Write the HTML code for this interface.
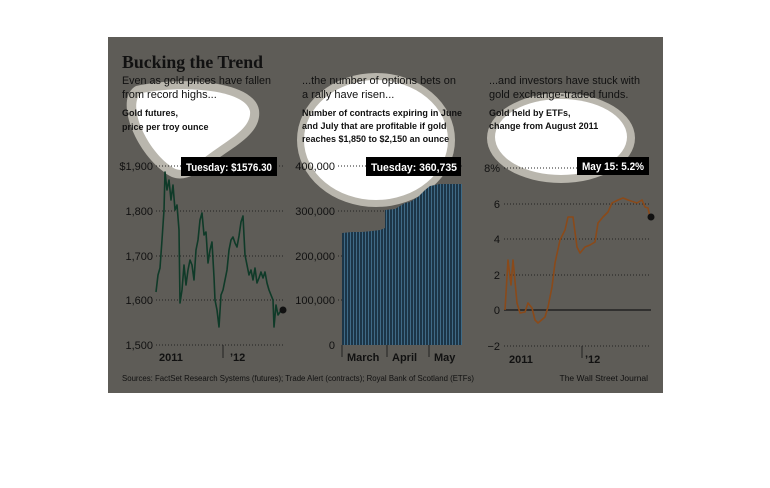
<!DOCTYPE html>
<html><head><style>
body{margin:0;background:#fff;width:770px;height:488px;overflow:hidden}
svg{position:absolute;left:0;top:0}
</style></head><body>
<svg width="770" height="488" viewBox="0 0 770 488" font-family="Liberation Sans, sans-serif">
<defs>
<clipPath id="b2"><ellipse cx="376" cy="140" rx="72" ry="60"/></clipPath>
<pattern id="st" width="3" height="10" patternUnits="userSpaceOnUse"><rect width="2" height="10" fill="#1c3547"/><rect x="2" width="1" height="10" fill="#3f6a86"/></pattern>
<pattern id="st2" width="3" height="10" patternUnits="userSpaceOnUse"><rect width="2" height="10" fill="#4a9ec8"/><rect x="2" width="1" height="10" fill="#bfe3f3"/></pattern>
</defs>
<rect x="108" y="37" width="555" height="356" fill="#5e5c57"/>
<!-- blobs -->
<path d="M136,86 C180,76 254,80 259,110 C262,134 234,146 209,165 C192,178 178,184 164,172 C134,150 114,98 136,86 Z" fill="#b9b6ad"/>
<path d="M142,93 C182,85 245,89 250,111 C252,129 227,140 204,158 C189,170 180,174 169,165 C143,145 127,102 142,93 Z" fill="#fff"/>
<ellipse cx="376" cy="140" rx="79" ry="67" fill="#b9b6ad"/>
<ellipse cx="376" cy="140" rx="72" ry="60" fill="#fff"/>
<ellipse cx="561" cy="138" rx="74" ry="45" fill="#b9b6ad"/>
<ellipse cx="561" cy="137" rx="66" ry="38" fill="#fff"/>
<text x="122" y="68" style="font-family:'Liberation Serif',serif" font-weight="bold" font-size="18" fill="#111" textLength="141" lengthAdjust="spacingAndGlyphs">Bucking the Trend</text>
<g font-size="11" fill="#111">
<text x="122" y="84" textLength="149" lengthAdjust="spacingAndGlyphs">Even as gold prices have fallen</text>
<text x="122" y="98">from record highs...</text>
<text x="302" y="84" textLength="154" lengthAdjust="spacingAndGlyphs">...the number of options bets on</text>
<text x="302" y="98">a rally have risen...</text>
<text x="489" y="84" textLength="151" lengthAdjust="spacingAndGlyphs">...and investors have stuck with</text>
<text x="489" y="98">gold exchange-traded funds.</text>
</g>
<g font-size="9" font-weight="bold" fill="#111">
<text x="122" y="116">Gold futures,</text>
<text x="122" y="130">price per troy ounce</text>
<text x="302" y="116" textLength="160" lengthAdjust="spacingAndGlyphs">Number of contracts expiring in June</text>
<text x="302" y="129">and July that are profitable if gold</text>
<text x="302" y="142">reaches $1,850 to $2,150 an ounce</text>
<text x="489" y="116">Gold held by ETFs,</text>
<text x="489" y="129">change from August 2011</text>
</g>
<!-- grids -->
<g stroke="#222" stroke-dasharray="1,2" stroke-width="1">
<line x1="156" y1="166" x2="284" y2="166"/><line x1="156" y1="211" x2="284" y2="211"/><line x1="156" y1="256" x2="284" y2="256"/><line x1="156" y1="300" x2="284" y2="300"/><line x1="156" y1="345" x2="284" y2="345"/>
<line x1="338" y1="166" x2="462" y2="166"/><line x1="338" y1="211" x2="462" y2="211"/><line x1="338" y1="256" x2="462" y2="256"/><line x1="338" y1="300" x2="462" y2="300"/>
<line x1="504" y1="168" x2="651" y2="168"/><line x1="504" y1="204" x2="651" y2="204"/><line x1="504" y1="239" x2="651" y2="239"/><line x1="504" y1="275" x2="651" y2="275"/><line x1="504" y1="346" x2="651" y2="346"/>
</g>
<line x1="504" y1="310" x2="651" y2="310" stroke="#222" stroke-width="1.5"/>
<g font-size="11" fill="#111" text-anchor="end">
<text x="153" y="170">$1,900</text><text x="153" y="215">1,800</text><text x="153" y="260">1,700</text><text x="153" y="304">1,600</text><text x="153" y="349">1,500</text>
<text x="335" y="170">400,000</text><text x="335" y="215">300,000</text><text x="335" y="260">200,000</text><text x="335" y="304">100,000</text><text x="335" y="349">0</text>
<text x="500" y="172">8%</text><text x="500" y="208">6</text><text x="500" y="243">4</text><text x="500" y="279">2</text><text x="500" y="314">0</text><text x="500" y="350">−2</text>
</g>
<line x1="223" y1="345" x2="223" y2="358" stroke="#222"/>
<line x1="582" y1="346" x2="582" y2="358" stroke="#222"/>
<line x1="342" y1="345" x2="342" y2="357" stroke="#222"/><line x1="387" y1="345" x2="387" y2="357" stroke="#222"/><line x1="429" y1="345" x2="429" y2="357" stroke="#222"/>
<g font-size="11" fill="#111" font-weight="bold">
<text x="159" y="361">2011</text><text x="230" y="361">’12</text>
<text x="347" y="361">March</text><text x="392" y="361">April</text><text x="434" y="361">May</text>
<text x="509" y="363">2011</text><text x="585" y="363">’12</text>
</g>
<path d="M342,345 L342,233 L352,232 L362,232 L372,231 L380,230 L385,228 L385,210 L395,209 L405,203 L410,202 L418,197 L425,190 L430,186 L440,184 L462,184 L462,345 Z" fill="url(#st)"/>
<path d="M342,345 L342,233 L352,232 L362,232 L372,231 L380,230 L385,228 L385,210 L395,209 L405,203 L410,202 L418,197 L425,190 L430,186 L440,184 L462,184 L462,345 Z" fill="url(#st2)" clip-path="url(#b2)"/>
<polyline fill="none" stroke="#0f3a28" stroke-width="1.6" stroke-linejoin="round" points="156,292 158,275 160,268 162,240 164,210 165,172 167,190 169,180 171,200 173,185 175,210 177,205 179,230 180,303 182,290 184,265 186,285 188,270 190,260 192,265 194,280 196,250 198,240 200,220 202,213 204,235 206,232 208,263 210,250 212,242 214,277 215,300 217,310 219,327 221,295 223,290 225,280 227,270 229,250 231,240 233,237 235,243 237,247 239,236 241,222 243,216 245,255 247,265 249,275 251,270 253,280 255,268 257,283 259,278 261,272 263,278 265,272 267,283 269,290 271,295 273,300 274,327 276,305 278,315 280,312 283,310"/>
<circle cx="283" cy="310" r="3.5" fill="#111"/>
<polyline fill="none" stroke="#8a4a1a" stroke-width="1.6" stroke-linejoin="round" points="505,310 508,260 511,285 513,260 517,303 520,313 525,312 528,303 532,308 535,320 538,323 545,317 548,307 552,287 555,263 560,240 565,230 568,217 573,217 577,247 580,253 585,247 590,245 595,242 598,223 603,217 608,212 612,203 618,200 623,198 628,200 637,203 642,200 645,207 648,208 650,217"/>
<circle cx="651" cy="217" r="3.5" fill="#111"/>
<rect x="181" y="157" width="96" height="19" fill="#000"/>
<text x="186" y="171" font-size="11" font-weight="bold" fill="#fff" textLength="86" lengthAdjust="spacingAndGlyphs">Tuesday: $1576.30</text>
<rect x="366" y="157" width="95" height="19" fill="#000"/>
<text x="371" y="171" font-size="11" font-weight="bold" fill="#fff" textLength="86" lengthAdjust="spacingAndGlyphs">Tuesday: 360,735</text>
<rect x="577" y="157" width="72" height="18" fill="#000"/>
<text x="582" y="170" font-size="11" font-weight="bold" fill="#fff" textLength="62" lengthAdjust="spacingAndGlyphs">May 15: 5.2%</text>
<g font-size="8.5" fill="#111">
<text x="122" y="381" textLength="352" lengthAdjust="spacingAndGlyphs">Sources: FactSet Research Systems (futures); Trade Alert (contracts); Royal Bank of Scotland (ETFs)</text>
<text x="648" y="381" text-anchor="end">The Wall Street Journal</text>
</g>
</svg>
</body></html>
